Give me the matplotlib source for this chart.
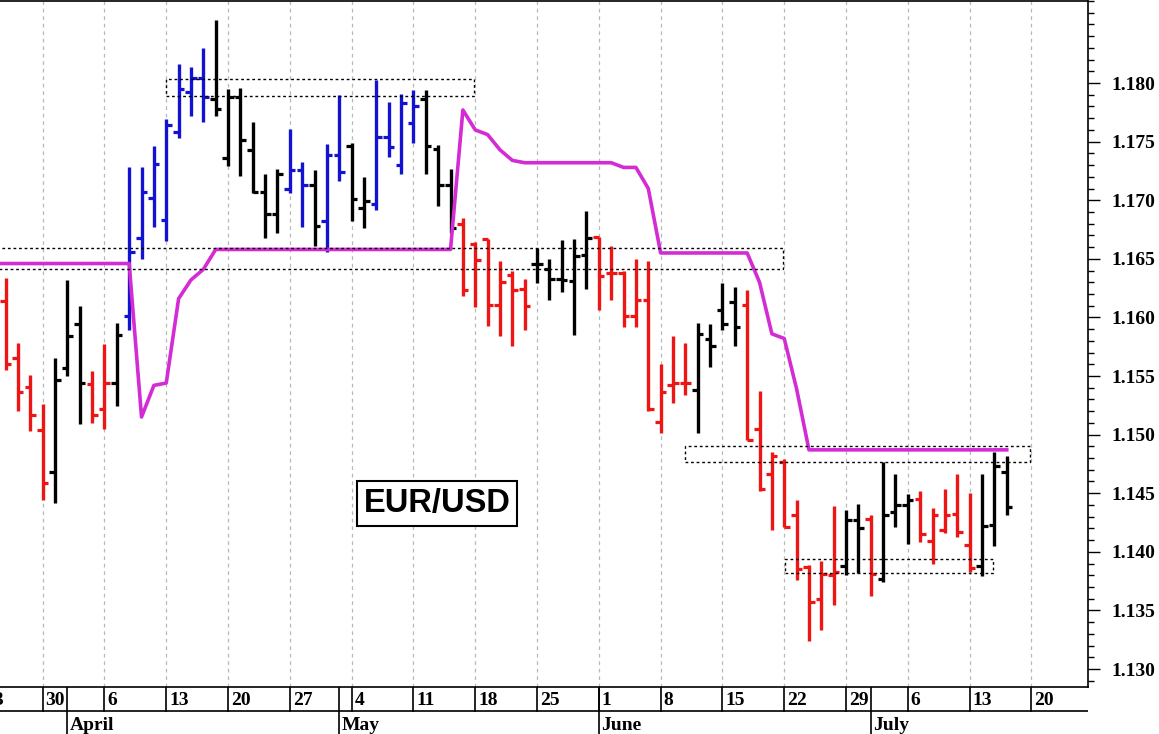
import numpy as np
import matplotlib
matplotlib.use("Agg")
import matplotlib.pyplot as plt
from matplotlib.patches import Rectangle
from matplotlib.ticker import FixedLocator, MultipleLocator, FormatStrFormatter

# trading-day index: 0 = Monday 30 March (weekends skipped)
bar_idx = np.arange(-3, 79)

opens = [1.1614, 1.1565, 1.1541, 1.1504, 1.1468, 1.1557, 1.1594, 1.1543, 1.1522, 1.1544,
         1.1601, 1.1668, 1.1702, 1.1683, 1.1758, 1.1792, 1.1804, 1.1786, 1.1736, 1.1788,
         1.1743, 1.1707, 1.1688, 1.1710, 1.1726, 1.1713, 1.1682, 1.1739, 1.1746, 1.1693,
         1.1697, 1.1754, 1.1730, 1.1766, 1.1786, 1.1744, 1.1713, 1.1680, 1.1663, 1.1667,
         1.1611, 1.1636, 1.1624, 1.1646, 1.1641, 1.1633, 1.1631, 1.1653, 1.1669, 1.1638,
         1.1638, 1.1601, 1.1615, 1.1511, 1.1542, 1.1544, 1.1538, 1.1582, 1.1606, 1.1613,
         1.1611, 1.1505, 1.1466, 1.1477, 1.1431, 1.1387, 1.1360, 1.1380, 1.1388, 1.1427,
         1.1428, 1.1377, 1.1434, 1.1440, 1.1445, 1.1409, 1.1419, 1.1432, 1.1406, 1.1388,
         1.1423, 1.1468]
highs = [1.1634, 1.1578, 1.1551, 1.1526, 1.1565, 1.1632, 1.1610, 1.1554, 1.1577, 1.1595,
         1.1728, 1.1728, 1.1746, 1.1769, 1.1816, 1.1814, 1.1830, 1.1854, 1.1795, 1.1796,
         1.1767, 1.1722, 1.1727, 1.1761, 1.1733, 1.1726, 1.1748, 1.1790, 1.1749, 1.1720,
         1.1803, 1.1784, 1.1791, 1.1794, 1.1794, 1.1747, 1.1727, 1.1685, 1.1664, 1.1667,
         1.1648, 1.1640, 1.1633, 1.1659, 1.1650, 1.1666, 1.1667, 1.1691, 1.1669, 1.1661,
         1.1640, 1.1650, 1.1648, 1.1560, 1.1584, 1.1578, 1.1595, 1.1594, 1.1629, 1.1626,
         1.1623, 1.1537, 1.1485, 1.1479, 1.1444, 1.1389, 1.1392, 1.1439, 1.1436, 1.1441,
         1.1431, 1.1477, 1.1466, 1.1449, 1.1452, 1.1437, 1.1454, 1.1466, 1.1450, 1.1466,
         1.1485, 1.1482]
lows = [1.1555, 1.1520, 1.1503, 1.1444, 1.1442, 1.1550, 1.1509, 1.1510, 1.1505, 1.1524,
        1.1589, 1.1650, 1.1677, 1.1665, 1.1753, 1.1772, 1.1767, 1.1772, 1.1729, 1.1721,
        1.1706, 1.1668, 1.1672, 1.1706, 1.1677, 1.1661, 1.1656, 1.1716, 1.1682, 1.1676,
        1.1692, 1.1737, 1.1722, 1.1749, 1.1722, 1.1695, 1.1672, 1.1618, 1.1609, 1.1593,
        1.1584, 1.1576, 1.1589, 1.1629, 1.1615, 1.1622, 1.1585, 1.1624, 1.1606, 1.1615,
        1.1592, 1.1592, 1.1520, 1.1501, 1.1527, 1.1534, 1.1501, 1.1558, 1.1589, 1.1576,
        1.1495, 1.1452, 1.1419, 1.1421, 1.1376, 1.1324, 1.1333, 1.1355, 1.1380, 1.1382,
        1.1362, 1.1374, 1.1421, 1.1407, 1.1408, 1.1390, 1.1416, 1.1413, 1.1383, 1.1379,
        1.1405, 1.1431]
closes = [1.1560, 1.1536, 1.1517, 1.1459, 1.1547, 1.1584, 1.1544, 1.1517, 1.1544, 1.1585,
          1.1656, 1.1707, 1.1731, 1.1764, 1.1795, 1.1804, 1.1788, 1.1778, 1.1788, 1.1751,
          1.1707, 1.1688, 1.1722, 1.1726, 1.1713, 1.1678, 1.1739, 1.1724, 1.1701, 1.1699,
          1.1754, 1.1745, 1.1783, 1.1780, 1.1746, 1.1713, 1.1676, 1.1623, 1.1649, 1.1611,
          1.1630, 1.1623, 1.1610, 1.1646, 1.1633, 1.1632, 1.1652, 1.1668, 1.1635, 1.1638,
          1.1601, 1.1615, 1.1522, 1.1536, 1.1544, 1.1544, 1.1586, 1.1576, 1.1594, 1.1592,
          1.1495, 1.1454, 1.1482, 1.1421, 1.1385, 1.1357, 1.1381, 1.1383, 1.1427, 1.1420,
          1.1381, 1.1431, 1.1440, 1.1444, 1.1415, 1.1431, 1.1431, 1.1417, 1.1386, 1.1422,
          1.1473, 1.1438]
# r = short, b = long, k = neutral
states = ("rrrrkkkrrk" "bbbbbbbkkk" "kkkbbkbbkk" "bbbbkkkrrr"
          "rrrkkkkkrr" "rrrrrrkkkk" "rrrrrrrrkk" "rkkkrrrrrk" "kk")

# stop line, starts one day before the first visible bar
stop_idx = np.arange(-4, 79)
stop = [1.1646, 1.1646, 1.1646, 1.1646, 1.1646, 1.1646, 1.1646, 1.1646, 1.1646, 1.1646,
        1.1646, 1.1646, 1.1515, 1.1542, 1.1544, 1.1616, 1.1632, 1.1641, 1.1658, 1.1658,
        1.1658, 1.1658, 1.1658, 1.1658, 1.1658, 1.1658, 1.1658, 1.1658, 1.1658, 1.1658,
        1.1658, 1.1658, 1.1658, 1.1658, 1.1658, 1.1658, 1.1658, 1.1658, 1.1777, 1.1760,
        1.1756, 1.1743, 1.1734, 1.1732, 1.1732, 1.1732, 1.1732, 1.1732, 1.1732, 1.1732,
        1.1732, 1.1728, 1.1728, 1.1710, 1.1655, 1.1655, 1.1655, 1.1655, 1.1655, 1.1655,
        1.1655, 1.1655, 1.1630, 1.1586, 1.1582, 1.1539, 1.1487, 1.1487, 1.1487, 1.1487,
        1.1487, 1.1487, 1.1487, 1.1487, 1.1487, 1.1487, 1.1487, 1.1487, 1.1487, 1.1487,
        1.1487, 1.1487, 1.1487]

# dotted zones: (start idx, end idx, low, high)
zones = [(-4.0, 59.9, 1.16410, 1.16590),
         (10.0, 34.9, 1.17893, 1.18032),
         (52.0, 79.9, 1.14764, 1.14905),
         (60.05, 76.9, 1.13817, 1.13936)]

week_idx = [-5, 0, 5, 10, 15, 20, 25, 30, 35, 40, 45, 50, 55, 60, 65, 70, 75, 80]
week_labels = ["23", "30", "6", "13", "20", "27", "4", "11", "18", "25",
               "1", "8", "15", "22", "29", "6", "13", "20"]
month_idx = [2, 24, 45, 67]
month_labels = ["April", "May", "June", "July"]

y_major = [1.130, 1.135, 1.140, 1.145, 1.150, 1.155, 1.160, 1.165, 1.170, 1.175, 1.180]

colors = {"r": "#ee1515", "k": "#000000", "b": "#1212d0"}
serif = "Liberation Serif"

W, H = 1159, 734
fig = plt.figure(figsize=(W / 100, H / 100), dpi=100)
fig.patch.set_facecolor("white")
xlim = (-3.45, 84.6)

ax = fig.add_axes([0, 47.3 / H, 1088.3 / W, 685.7 / H])
ax.set_xlim(*xlim)
ax.set_ylim(1.12849, 1.18700)

for x in week_idx:
    ax.axvline(x, color="#b8b8b8", lw=0.9, ls=(0, (3, 3)), zorder=0)

for i, o, h, l, c, s in zip(bar_idx, opens, highs, lows, closes, states):
    col = colors[s]
    ax.vlines(i, l, h, color=col, lw=2.4, capstyle="butt", zorder=2)
    ax.hlines(o, i - 0.45, i, color=col, lw=2.3, zorder=2)
    ax.hlines(c, i, i + 0.45, color=col, lw=2.3, zorder=2)

ax.plot(stop_idx, stop, color="#d42cd4", lw=2.6, zorder=3, solid_joinstyle="round")

for x0, x1, lo, hi in zones:
    ax.add_patch(Rectangle((x0, lo), x1 - x0, hi - lo, fill=False, ec="black",
                           lw=1.0, ls=(0, (2, 2)), zorder=4))

ax.text(31.9, 1.14412, "EUR/USD", ha="center", va="center", fontsize=23.5,
        fontweight="bold", family="Liberation Sans", zorder=5,
        bbox=dict(boxstyle="square,pad=0.2", fc="white", ec="black", lw=1.5))

ax.spines["left"].set_visible(False)
for sp in ("top", "right", "bottom"):
    ax.spines[sp].set_linewidth(1.2)
ax.set_xticks([])
ax.yaxis.tick_right()
ax.yaxis.set_major_locator(FixedLocator(y_major))
ax.yaxis.set_minor_locator(MultipleLocator(0.001))
ax.yaxis.set_major_formatter(FormatStrFormatter("%.3f"))
ax.tick_params(axis="y", which="major", direction="out", length=8.5, width=1, pad=8)
ax.tick_params(axis="y", which="minor", direction="out", length=4.3, width=1)
for t in ax.get_yticklabels():
    t.set_fontfamily(serif)
    t.set_fontweight("bold")
    t.set_fontsize(14)

# date strip under the chart
ax2 = fig.add_axes([0, 0, 1088.3 / W, 47.3 / H])
ax2.set_xlim(*xlim)
ax2.set_ylim(0, 47.3)
ax2.axis("off")
ax2.plot(xlim, [23, 23], color="black", lw=1.2)
for x, lab in zip(week_idx, week_labels):
    ax2.plot([x, x], [23, 47.3], color="black", lw=1.2)
    ax2.text(x + 0.24, 29, lab, ha="left", va="baseline", fontsize=14,
             fontweight="bold", family=serif)
for x, lab in zip(month_idx, month_labels):
    ax2.plot([x, x], [0, 47.3], color="black", lw=1.2)
    ax2.text(x + 0.2, 4, lab, ha="left", va="baseline", fontsize=14,
             fontweight="bold", family=serif)

fig.savefig("out.png", dpi=100)
